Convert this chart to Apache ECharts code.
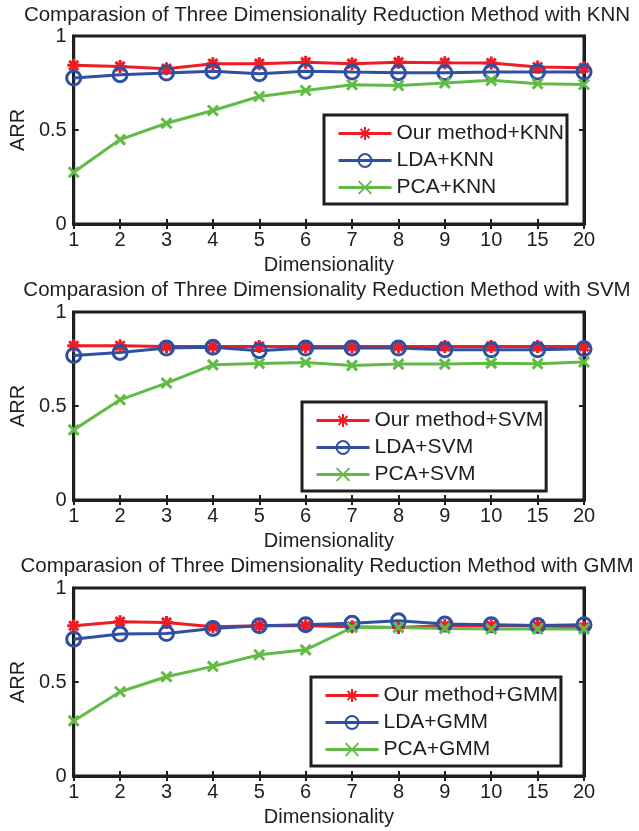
<!DOCTYPE html>
<html><head><meta charset="utf-8">
<script src="https://cdn.jsdelivr.net/npm/echarts@6/dist/echarts.min.js"></script>
<style>html,body{margin:0;padding:0;background:#fff}#c{width:639px;height:831px}</style>
</head><body><div id="c"></div>
<script>
const categories = ['1','2','3','4','5','6','7','8','9','10','15','20'];
const yTicks = [0, 0.5, 1];
const classifiers = ['KNN', 'SVM', 'GMM'];

const oursKNN = [0.844,0.838,0.826,0.853,0.853,0.861,0.853,0.861,0.858,0.856,0.835,0.831];
const ldaKNN  = [0.776,0.794,0.803,0.812,0.799,0.812,0.808,0.805,0.805,0.808,0.808,0.808];
const pcaKNN  = [0.275,0.449,0.536,0.604,0.678,0.710,0.741,0.737,0.750,0.764,0.746,0.742];

const oursSVM = [0.820,0.820,0.817,0.817,0.817,0.817,0.817,0.817,0.817,0.817,0.817,0.817];
const ldaSVM  = [0.769,0.785,0.808,0.812,0.794,0.808,0.808,0.808,0.799,0.799,0.799,0.805];
const pcaSVM  = [0.373,0.533,0.622,0.719,0.726,0.732,0.716,0.723,0.723,0.728,0.725,0.734];

const oursGMM = [0.799,0.821,0.817,0.794,0.799,0.799,0.794,0.790,0.799,0.799,0.799,0.790];
const ldaGMM  = [0.728,0.755,0.758,0.785,0.799,0.805,0.812,0.826,0.808,0.805,0.801,0.805];
const pcaGMM  = [0.293,0.448,0.528,0.583,0.645,0.671,0.790,0.790,0.785,0.782,0.782,0.782];

const panels = [
  {cls:'KNN', ours:oursKNN, lda:ldaKNN, pca:pcaKNN},
  {cls:'SVM', ours:oursSVM, lda:ldaSVM, pca:pcaSVM},
  {cls:'GMM', ours:oursGMM, lda:ldaGMM, pca:pcaGMM}
];

const RED = '#ee1c25', BLUE = '#2f4fa2', GREEN = '#62bb46', INK = '#1e1e1e';
const FONT = 'Liberation Sans, Arial, sans-serif';
const gridTops = [36, 312, 588];
const titleTops = [5, 280, 556];
const legendPos = [
  {left: 324, top: 115},
  {left: 302, top: 402},
  {left: 311, top: 677}
];
const starPath = 'path://M0,-10L0,10M-10,0L10,0M-7,-7L7,7M-7,7L7,-7';
const xPath = 'path://M-7,-7L7,7M-7,7L7,-7';

const option = {
  animation: false,
  backgroundColor: '#fff',
  title: [], grid: [], xAxis: [], yAxis: [], legend: [], series: []
};

panels.forEach((p, i) => {
  option.title.push({
    text: 'Comparasion of Three Dimensionality Reduction Method with ' + p.cls,
    left: 327, textAlign: 'center', top: titleTops[i], padding: 0,
    textStyle: {fontFamily: FONT, fontSize: 20.5, fontWeight: 'normal', color: INK}
  });
  option.grid.push({left: 70, right: 55, top: gridTops[i], height: 188,
    show: true, borderColor: INK, borderWidth: 3, backgroundColor: 'transparent'});
  const tick = {show: true, inside: true, length: 5, lineStyle: {color: INK, width: 2}};
  option.xAxis.push({
    type: 'category', gridIndex: i, data: categories, boundaryGap: false, position: 'bottom',
    axisLine: {show: true, lineStyle: {color: INK, width: 3}},
    axisTick: tick,
    axisLabel: {fontFamily: FONT, fontSize: 20, color: INK, margin: 6, interval: 0},
    name: 'Dimensionality', nameLocation: 'middle', nameGap: 31,
    nameTextStyle: {fontFamily: FONT, fontSize: 20, color: INK},
    splitLine: {show: false}
  });
  option.xAxis.push({
    type: 'category', gridIndex: i, data: categories, boundaryGap: false, position: 'top',
    axisLine: {show: true, lineStyle: {color: INK, width: 3}},
    axisTick: tick, axisLabel: {show: false}, splitLine: {show: false}
  });
  option.yAxis.push({
    type: 'value', gridIndex: i, min: yTicks[0], max: yTicks[yTicks.length-1], interval: 0.5,
    position: 'left',
    axisLine: {show: true, lineStyle: {color: INK, width: 3}},
    axisTick: tick,
    axisLabel: {fontFamily: FONT, fontSize: 20, color: INK, margin: 7},
    name: 'ARR', nameLocation: 'middle', nameGap: 44,
    nameTextStyle: {fontFamily: FONT, fontSize: 20, color: INK},
    splitLine: {show: false}
  });
  option.yAxis.push({
    type: 'value', gridIndex: i, min: yTicks[0], max: yTicks[yTicks.length-1], interval: 0.5,
    position: 'right',
    axisLine: {show: true, lineStyle: {color: INK, width: 3}},
    axisTick: tick, axisLabel: {show: false}, splitLine: {show: false}
  });
  const names = ['Our method+' + p.cls, 'LDA+' + p.cls, 'PCA+' + p.cls];
  option.legend.push({
    data: names, orient: 'vertical', left: legendPos[i].left, top: legendPos[i].top,
    padding: [8, 3, 6, 13], itemGap: 6, itemWidth: 53, itemHeight: 16,
    borderColor: INK, borderWidth: 3, backgroundColor: '#fff',
    lineStyle: {width: 3},
    textStyle: {fontFamily: FONT, fontSize: 21, color: INK, padding: [0,0,0,0]},
    selectedMode: false
  });
  const base = {type: 'line', xAxisIndex: 2*i, yAxisIndex: 2*i, z: 3};
  option.series.push(Object.assign({}, base, {
    name: names[0], data: p.ours, symbol: starPath, symbolSize: 13,
    lineStyle: {color: RED, width: 3},
    itemStyle: {color: RED, borderColor: RED, borderWidth: 3}
  }));
  option.series.push(Object.assign({}, base, {
    name: names[1], data: p.lda, symbol: 'circle', symbolSize: 14,
    lineStyle: {color: BLUE, width: 3},
    itemStyle: {color: 'rgba(255,255,255,0)', borderColor: BLUE, borderWidth: 3}
  }));
  option.series.push(Object.assign({}, base, {
    name: names[2], data: p.pca, symbol: xPath, symbolSize: 10,
    lineStyle: {color: GREEN, width: 3},
    itemStyle: {color: GREEN, borderColor: GREEN, borderWidth: 3}
  }));
});

const chart = echarts.init(document.getElementById('c'), null, {renderer: 'canvas'});
chart.setOption(option);
</script>
</body></html>
